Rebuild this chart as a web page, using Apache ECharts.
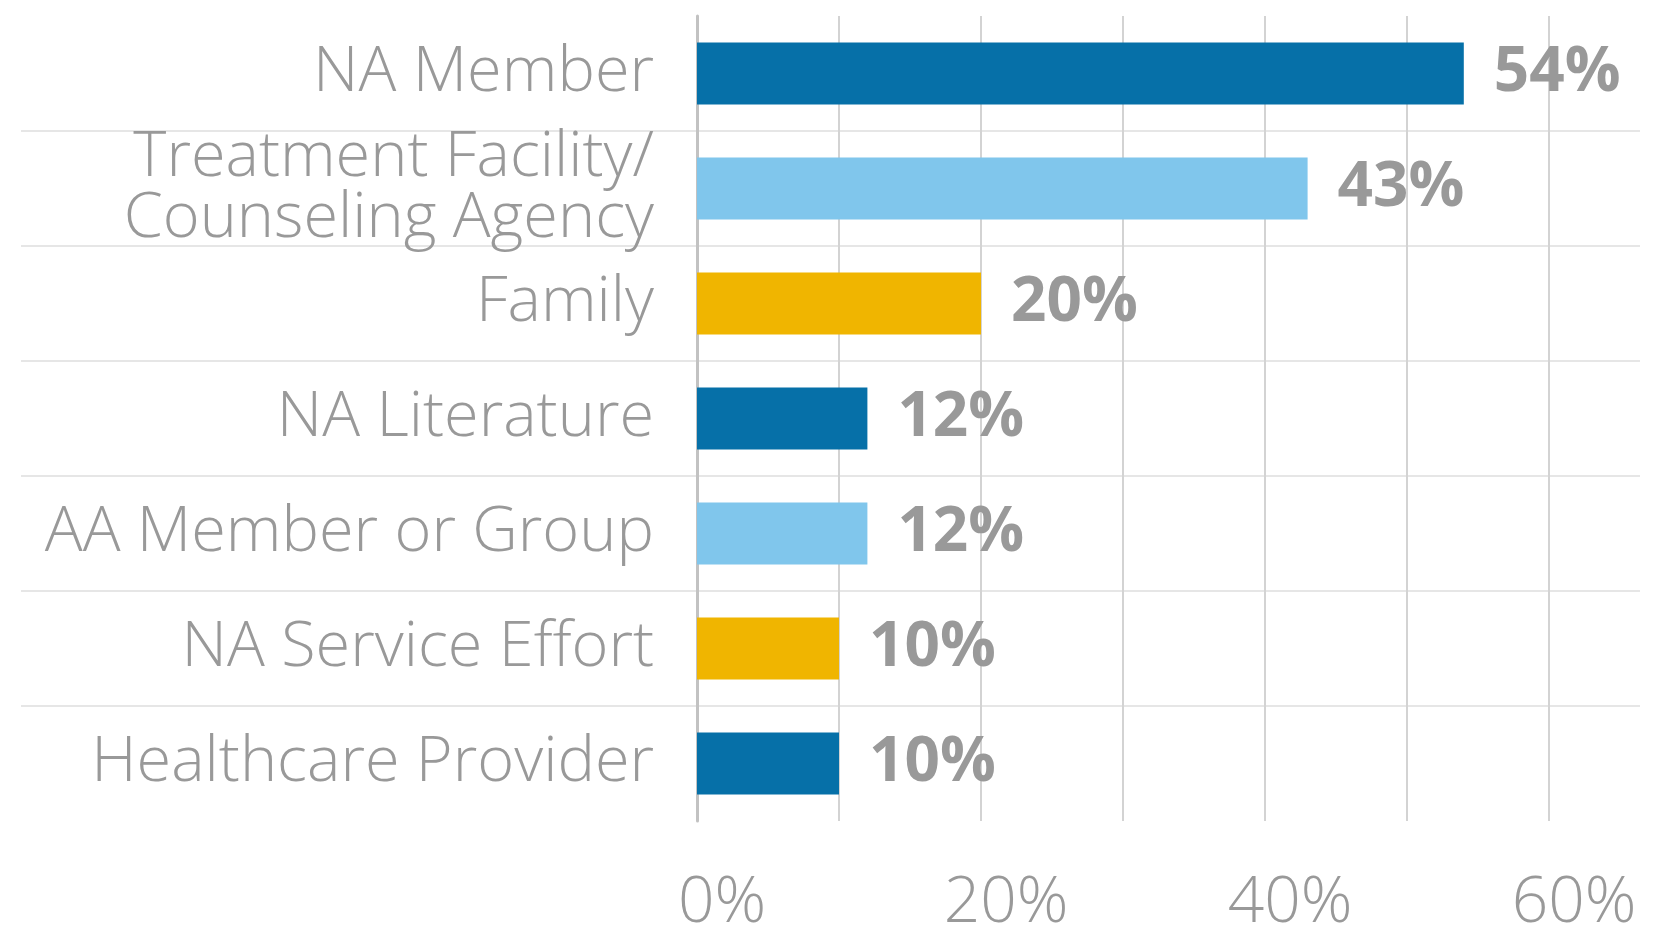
<!DOCTYPE html>
<html>
<head>
<meta charset="utf-8">
<script src="https://cdn.jsdelivr.net/npm/echarts@6/dist/echarts.min.js"></script>
<style>
html,body{margin:0;padding:0;background:#fff;}
#chart{width:1654px;height:933px;}
</style>
</head>
<body>
<div id="chart"></div>
<script>
// Data
const categories = [
  'NA Member',
  'Treatment Facility/\nCounseling Agency',
  'Family',
  'NA Literature',
  'AA Member or Group',
  'NA Service Effort',
  'Healthcare Provider'
];
const values = [54, 43, 20, 12, 12, 10, 10];
const xTicks = [0, 20, 40, 60];

// Styles
const palette = ['#0670a8', '#80c6ec', '#f0b500'];
const textGray = '#999999';
const fontFamily = '"Open Sans", Lato, sans-serif';

const chart = echarts.init(document.getElementById('chart'), null, {renderer: 'canvas'});

const option = {
  backgroundColor: '#ffffff',
  animation: false,
  grid: [
    {left: 697, right: 105, top: 16, bottom: 112, outerBoundsMode: 'none', containLabel: false},
    {left: 21, right: 14, top: 16, bottom: 112, outerBoundsMode: 'none', containLabel: false}
  ],
  xAxis: [
    {
      type: 'value', gridIndex: 0, min: 0, max: 60, interval: 10,
      axisLine: {show: false}, axisTick: {show: false},
      splitLine: {show: true, lineStyle: {color: '#d3d3d3', width: 2}},
      axisLabel: {
        show: true, fontSize: 64, lineHeight: 64, color: textGray,
        fontFamily: fontFamily, fontWeight: 300, margin: 51,
        padding: [0, 0, 0, 50],
        formatter: function (v) { return xTicks.indexOf(v) >= 0 ? v + '%' : ''; }
      }
    },
    {
      type: 'value', gridIndex: 1, min: 0, max: 1,
      show: false
    }
  ],
  yAxis: [
    {
      type: 'category', gridIndex: 0, data: categories, inverse: true,
      axisLine: {show: true, lineStyle: {color: '#c2c2c2', width: 3}},
      axisTick: {show: false},
      splitLine: {show: false},
      z: 3,
      axisLabel: {
        fontSize: 63, lineHeight: 61, color: textGray, fontFamily: fontFamily,
        fontWeight: 300, margin: 43, overflow: 'none', align: 'right'
      }
    },
    {
      type: 'category', gridIndex: 1, data: categories, inverse: true,
      axisLine: {show: false}, axisTick: {show: false}, axisLabel: {show: false},
      z: 0,
      splitLine: {show: true, showMinLine: false, showMaxLine: false,
        lineStyle: {color: '#e6e6e6', width: 2}}
    }
  ],
  series: [
    {
      type: 'bar', xAxisIndex: 0, yAxisIndex: 0,
      data: values.map(function (v, i) {
        return {value: v, itemStyle: {color: palette[i % palette.length]}};
      }),
      barWidth: 62,
      z: 4,
      label: {
        show: true, position: 'right', distance: 30,
        formatter: '{c}%', fontSize: 62, fontWeight: 'bold',
        color: textGray, fontFamily: fontFamily
      }
    }
  ]
};
chart.setOption(option);
</script>
</body>
</html>
